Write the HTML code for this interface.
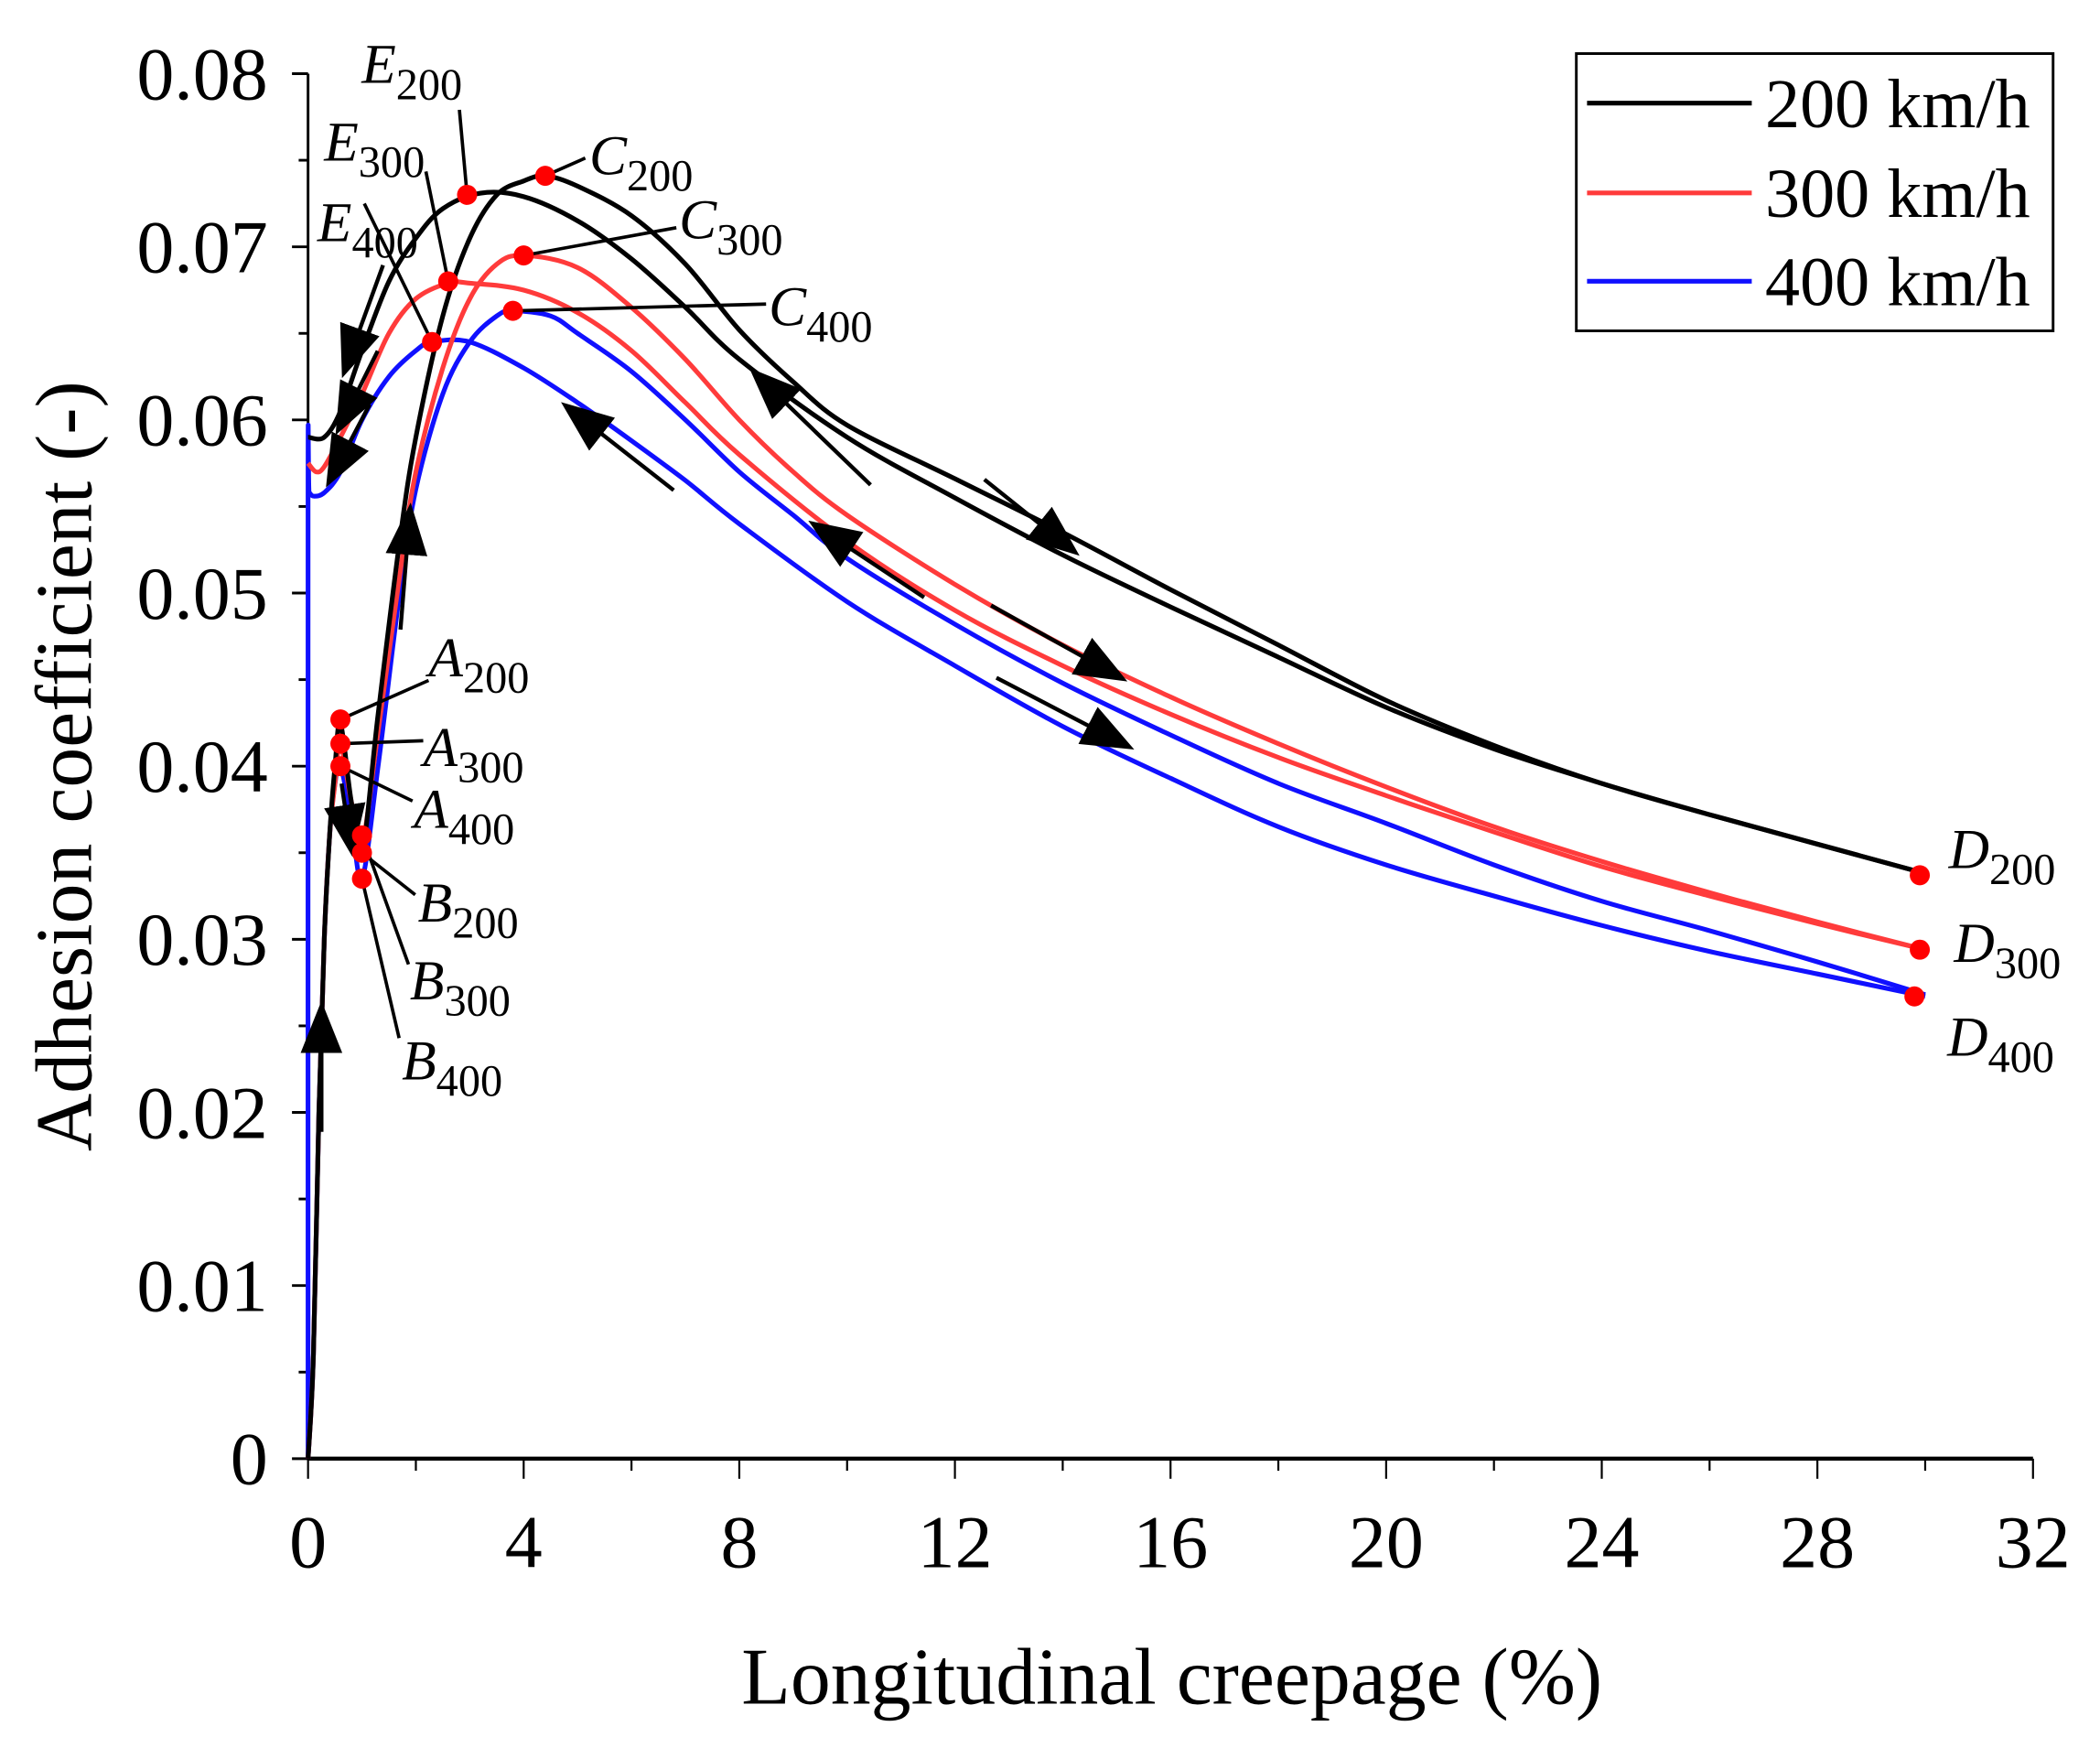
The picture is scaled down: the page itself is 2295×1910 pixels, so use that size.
<!DOCTYPE html>
<html><head><meta charset="utf-8"><style>
html,body{margin:0;padding:0;background:#fff;}
svg{display:block;font-family:"Liberation Serif",serif;}
</style></head><body>
<svg id="chart" width="2295" height="1910" viewBox="0 0 1568 1305" xmlns="http://www.w3.org/2000/svg">
<defs>
<marker id="ah" viewBox="0 0 10 10" refX="8" refY="5" markerWidth="13" markerHeight="13" markerUnits="strokeWidth" orient="auto"><path d="M0,1 L10,5 L0,9 z" fill="#000"/></marker>
</defs>
<g id="axes"></g>
<g id="series"></g>
<g id="annot"></g>
<g>
<rect x="1177" y="40" width="356" height="207" fill="#fff" stroke="#000" stroke-width="2"/>
<line x1="1185" y1="77" x2="1308" y2="77" stroke="#000" stroke-width="3.5"/>
<text x="1318" y="95" font-size="52">200 km/h</text>
<line x1="1185" y1="144" x2="1308" y2="144" stroke="#ff3b3b" stroke-width="3.5"/>
<text x="1318" y="162" font-size="52">300 km/h</text>
<line x1="1185" y1="210" x2="1308" y2="210" stroke="#1010ff" stroke-width="3.5"/>
<text x="1318" y="228" font-size="52">400 km/h</text>
</g>
<text x="875" y="1272" font-size="60" text-anchor="middle">Longitudinal creepage (%)</text>
<text transform="translate(68,572) rotate(-90)" font-size="60" text-anchor="middle">Adhesion coefficient (-)</text>
</svg>
<script>
const xTicks=[0,4,8,12,16,20,24,28,32];
const yTicks=[0,0.01,0.02,0.03,0.04,0.05,0.06,0.07,0.08];
const yTickLabels=["0","0.01","0.02","0.03","0.04","0.05","0.06","0.07","0.08"];
// 200 km/h: loading (0->A->B->C->D) and unloading (D->E->0)
const x200f=[0,0.1,0.2,0.3,0.4,0.5,0.6,0.8,1.0,1.3,1.7,2.0,2.5,3.0,3.5,4.0,4.4,5,6,7,8,9,10,12,14,16,18,20,22,24,26,28,30];
const y200f=[0,0.006,0.02,0.03,0.036,0.040,0.0425,0.038,0.035,0.043,0.053,0.059,0.066,0.0705,0.073,0.0738,0.0741,0.0735,0.0718,0.069,0.0652,0.0622,0.0597,0.0566,0.0535,0.0502,0.0470,0.0438,0.0412,0.0390,0.0372,0.0355,0.0338];
const x200b=[30,28,26,24,22,20,18,16,14,12,10,8,7,6,5,4,3.2,2.5,2.0,1.5,1.0,0.6,0.3,0];
const y200b=[0.0338,0.0355,0.0372,0.0390,0.0410,0.0434,0.0463,0.0492,0.0522,0.0555,0.0590,0.0635,0.0665,0.0693,0.0715,0.0729,0.0731,0.0722,0.0705,0.068,0.064,0.0605,0.059,0.059];
// 300 km/h
const x300f=[0,0.1,0.2,0.3,0.4,0.5,0.6,0.8,1.0,1.3,1.7,2.0,2.5,3.0,3.5,4.0,5,6,7,8,9,10,12,14,16,18,20,22,24,26,28,30];
const y300f=[0,0.006,0.02,0.03,0.036,0.039,0.0413,0.038,0.0355,0.042,0.051,0.057,0.063,0.067,0.069,0.0695,0.0688,0.0665,0.0635,0.0600,0.0570,0.0545,0.0505,0.0470,0.0440,0.0413,0.0388,0.0365,0.0345,0.0327,0.0310,0.0294];
const x300b=[30,28,26,24,22,20,18,16,14,12,10,8,7,6,5,4,3,2.6,2,1.5,1,0.6,0.3,0.15,0];
const y300b=[0.0294,0.0309,0.0325,0.0342,0.0362,0.0383,0.0405,0.0430,0.0458,0.0490,0.0530,0.0580,0.0610,0.0640,0.0662,0.0675,0.0679,0.0679,0.0670,0.065,0.0615,0.059,0.0573,0.0570,0.0575];
// 400 km/h
const x400f=[0,0.1,0.2,0.3,0.4,0.5,0.6,0.8,1.0,1.3,1.7,2.0,2.5,3.0,3.5,3.8,4.5,5,6,7,8,9,10,12,14,16,18,20,22,24,26,28,30];
const y400f=[0,0.006,0.02,0.03,0.036,0.039,0.040,0.037,0.0335,0.040,0.050,0.056,0.0615,0.0645,0.066,0.0663,0.066,0.0650,0.0628,0.0600,0.0570,0.0545,0.0520,0.0482,0.0448,0.0418,0.0390,0.0367,0.0343,0.0322,0.0305,0.0287,0.0268];
const x400b=[30,28,26,24,22,20,18,16,14,12,10,8,7,6,5,4,3,2.3,2,1.5,1,0.6,0.3,0.1,0.02,0,0];
const y400b=[0.0267,0.0280,0.0293,0.0308,0.0325,0.0343,0.0365,0.0393,0.0423,0.0458,0.0495,0.0540,0.0565,0.0588,0.0610,0.0630,0.0645,0.0645,0.0640,0.0625,0.0600,0.057,0.0558,0.0556,0.0558,0.0555,0];
// key points
const ptLabels=["A200","B200","C200","D200","E200","A300","B300","C300","D300","E300","A400","B400","C400","D400","E400"];
const ptX=[0.6,1.0,4.4,29.9,2.95,0.6,1.0,4.0,29.9,2.6,0.6,1.0,3.8,29.8,2.3];
const ptY=[0.0427,0.0350,0.0741,0.0337,0.0730,0.0413,0.0360,0.0695,0.0294,0.0680,0.0400,0.0335,0.0663,0.0267,0.0645];

const X0=230,X1=1518,Y0=1089,Y1=55;
const sx=v=>X0+(v-0)/(32-0)*(X1-X0);
const sy=v=>Y0-(v-0)/(0.08-0)*(Y0-Y1);
const NS="http://www.w3.org/2000/svg";
function mk(tag,attrs,parent){const e=document.createElementNS(NS,tag);for(const k in attrs)e.setAttribute(k,attrs[k]);parent.appendChild(e);return e;}
const axes=document.getElementById('axes'),series=document.getElementById('series'),annot=document.getElementById('annot');

let e;
e=mk('line',{x1:X0,y1:Y0,x2:X1,y2:Y0,stroke:'#000','stroke-width':3},axes);


e=mk('line',{x1:X0,y1:Y0+1,x2:X0,y2:Y1,stroke:'#000','stroke-width':2},axes);


for(let i=0;i<=16;i++){const v=i*2;const maj=i%2===0;
 e=mk('line',{x1:sx(v),y1:Y0,x2:sx(v),y2:Y0+(maj?15:9),stroke:'#000','stroke-width':1.5},axes);
 
 }
xTicks.forEach(v=>{e=mk('text',{x:sx(v),y:1170,'font-size':56,'text-anchor':'middle'},axes);e.textContent=String(v);
 
 });
for(let i=0;i<=16;i++){const v=i*0.005;const maj=i%2===0;
 e=mk('line',{x1:X0-(maj?12:7),y1:sy(v),x2:X0,y2:sy(v),stroke:'#000','stroke-width':2},axes);
 
 }
yTicks.forEach((v,i)=>{e=mk('text',{x:200,y:sy(v)+19,'font-size':56,'text-anchor':'end'},axes);e.textContent=yTickLabels[i];
 
 });

function path(xs,ys,color,name){
 const P=xs.map((x,i)=>[sx(x),sy(ys[i])]);
 let d='M'+P[0][0].toFixed(1)+','+P[0][1].toFixed(1);
 for(let i=0;i<P.length-1;i++){
  const p0=P[Math.max(0,i-1)],p1=P[i],p2=P[i+1],p3=P[Math.min(P.length-1,i+2)];
  const c1=[p1[0]+(p2[0]-p0[0])/6,p1[1]+(p2[1]-p0[1])/6];
  const c2=[p2[0]-(p3[0]-p1[0])/6,p2[1]-(p3[1]-p1[1])/6];
  d+='C'+c1[0].toFixed(1)+','+c1[1].toFixed(1)+' '+c2[0].toFixed(1)+','+c2[1].toFixed(1)+' '+p2[0].toFixed(1)+','+p2[1].toFixed(1);
 }
 const p=mk('path',{d:d,fill:'none',stroke:color,'stroke-width':3.5,'stroke-linejoin':'round'},series);
 
 }
path(x400b,y400b,'#1010ff','line-400-unloading');
path(x400f,y400f,'#1010ff','line-400-loading');
path(x300b,y300b,'#ff3b3b','line-300-unloading');
path(x300f,y300f,'#ff3b3b','line-300-loading');
path(x200b,y200b,'#000','line-200-unloading');
path(x200f,y200f,'#000','line-200-loading');

const arrows=[[240,845,240,755],[299,470,306,383],[255,585,262,632],[286,198,258,275],[282,262,254,318],[276,302,247,357],[650,362,565,280],[503,366,425,305],[690,446,610,393],[735,358,800,410],[740,452,835,505],[744,506,840,556]];
arrows.forEach(a=>{const g=mk('line',{x1:a[0],y1:a[1],x2:a[2],y2:a[3],stroke:'#000','stroke-width':3,'marker-end':'url(#ah)'},annot);
 
 });

const labelPos={A200:[320,505,'A','200'],A300:[316,572,'A','300'],A400:[309,618,'A','400'],B200:[312,688,'B','200'],B300:[306,746,'B','300'],B400:[300,806,'B','400'],C200:[440,130,'C','200'],C300:[507,178,'C','300'],C400:[574,243,'C','400'],D200:[1455,648,'D','200'],D300:[1459,718,'D','300'],D400:[1454,788,'D','400'],E200:[270,62,'E','200'],E300:[242,120,'E','300'],E400:[237,180,'E','400']};
const leaderFrom={A200:[320,508],A300:[316,553],A400:[308,598],B200:[310,668],B300:[305,720],B400:[298,775],C200:[437,118],C300:[505,170],C400:[572,227],E200:[343,82],E300:[318,128],E400:[272,152]};
ptLabels.forEach((k,i)=>{
 if(leaderFrom[k]){const l=mk('line',{x1:leaderFrom[k][0],y1:leaderFrom[k][1],x2:sx(ptX[i]),y2:sy(ptY[i]),stroke:'#000','stroke-width':2.5},annot);
 
 }
});
ptLabels.forEach((k,i)=>{
 const c=mk('circle',{cx:sx(ptX[i]),cy:sy(ptY[i]),r:7.5,fill:'#ff0000'},annot);
 
 
 const p=labelPos[k];
 const t=mk('text',{x:p[0],y:p[1],'font-size':42},annot);
 
 
 const a=mk('tspan',{'font-style':'italic'},t);a.textContent=p[2];
 const b=mk('tspan',{dy:12,'font-size':33},t);b.textContent=p[3];
});
</script>
</body></html>
